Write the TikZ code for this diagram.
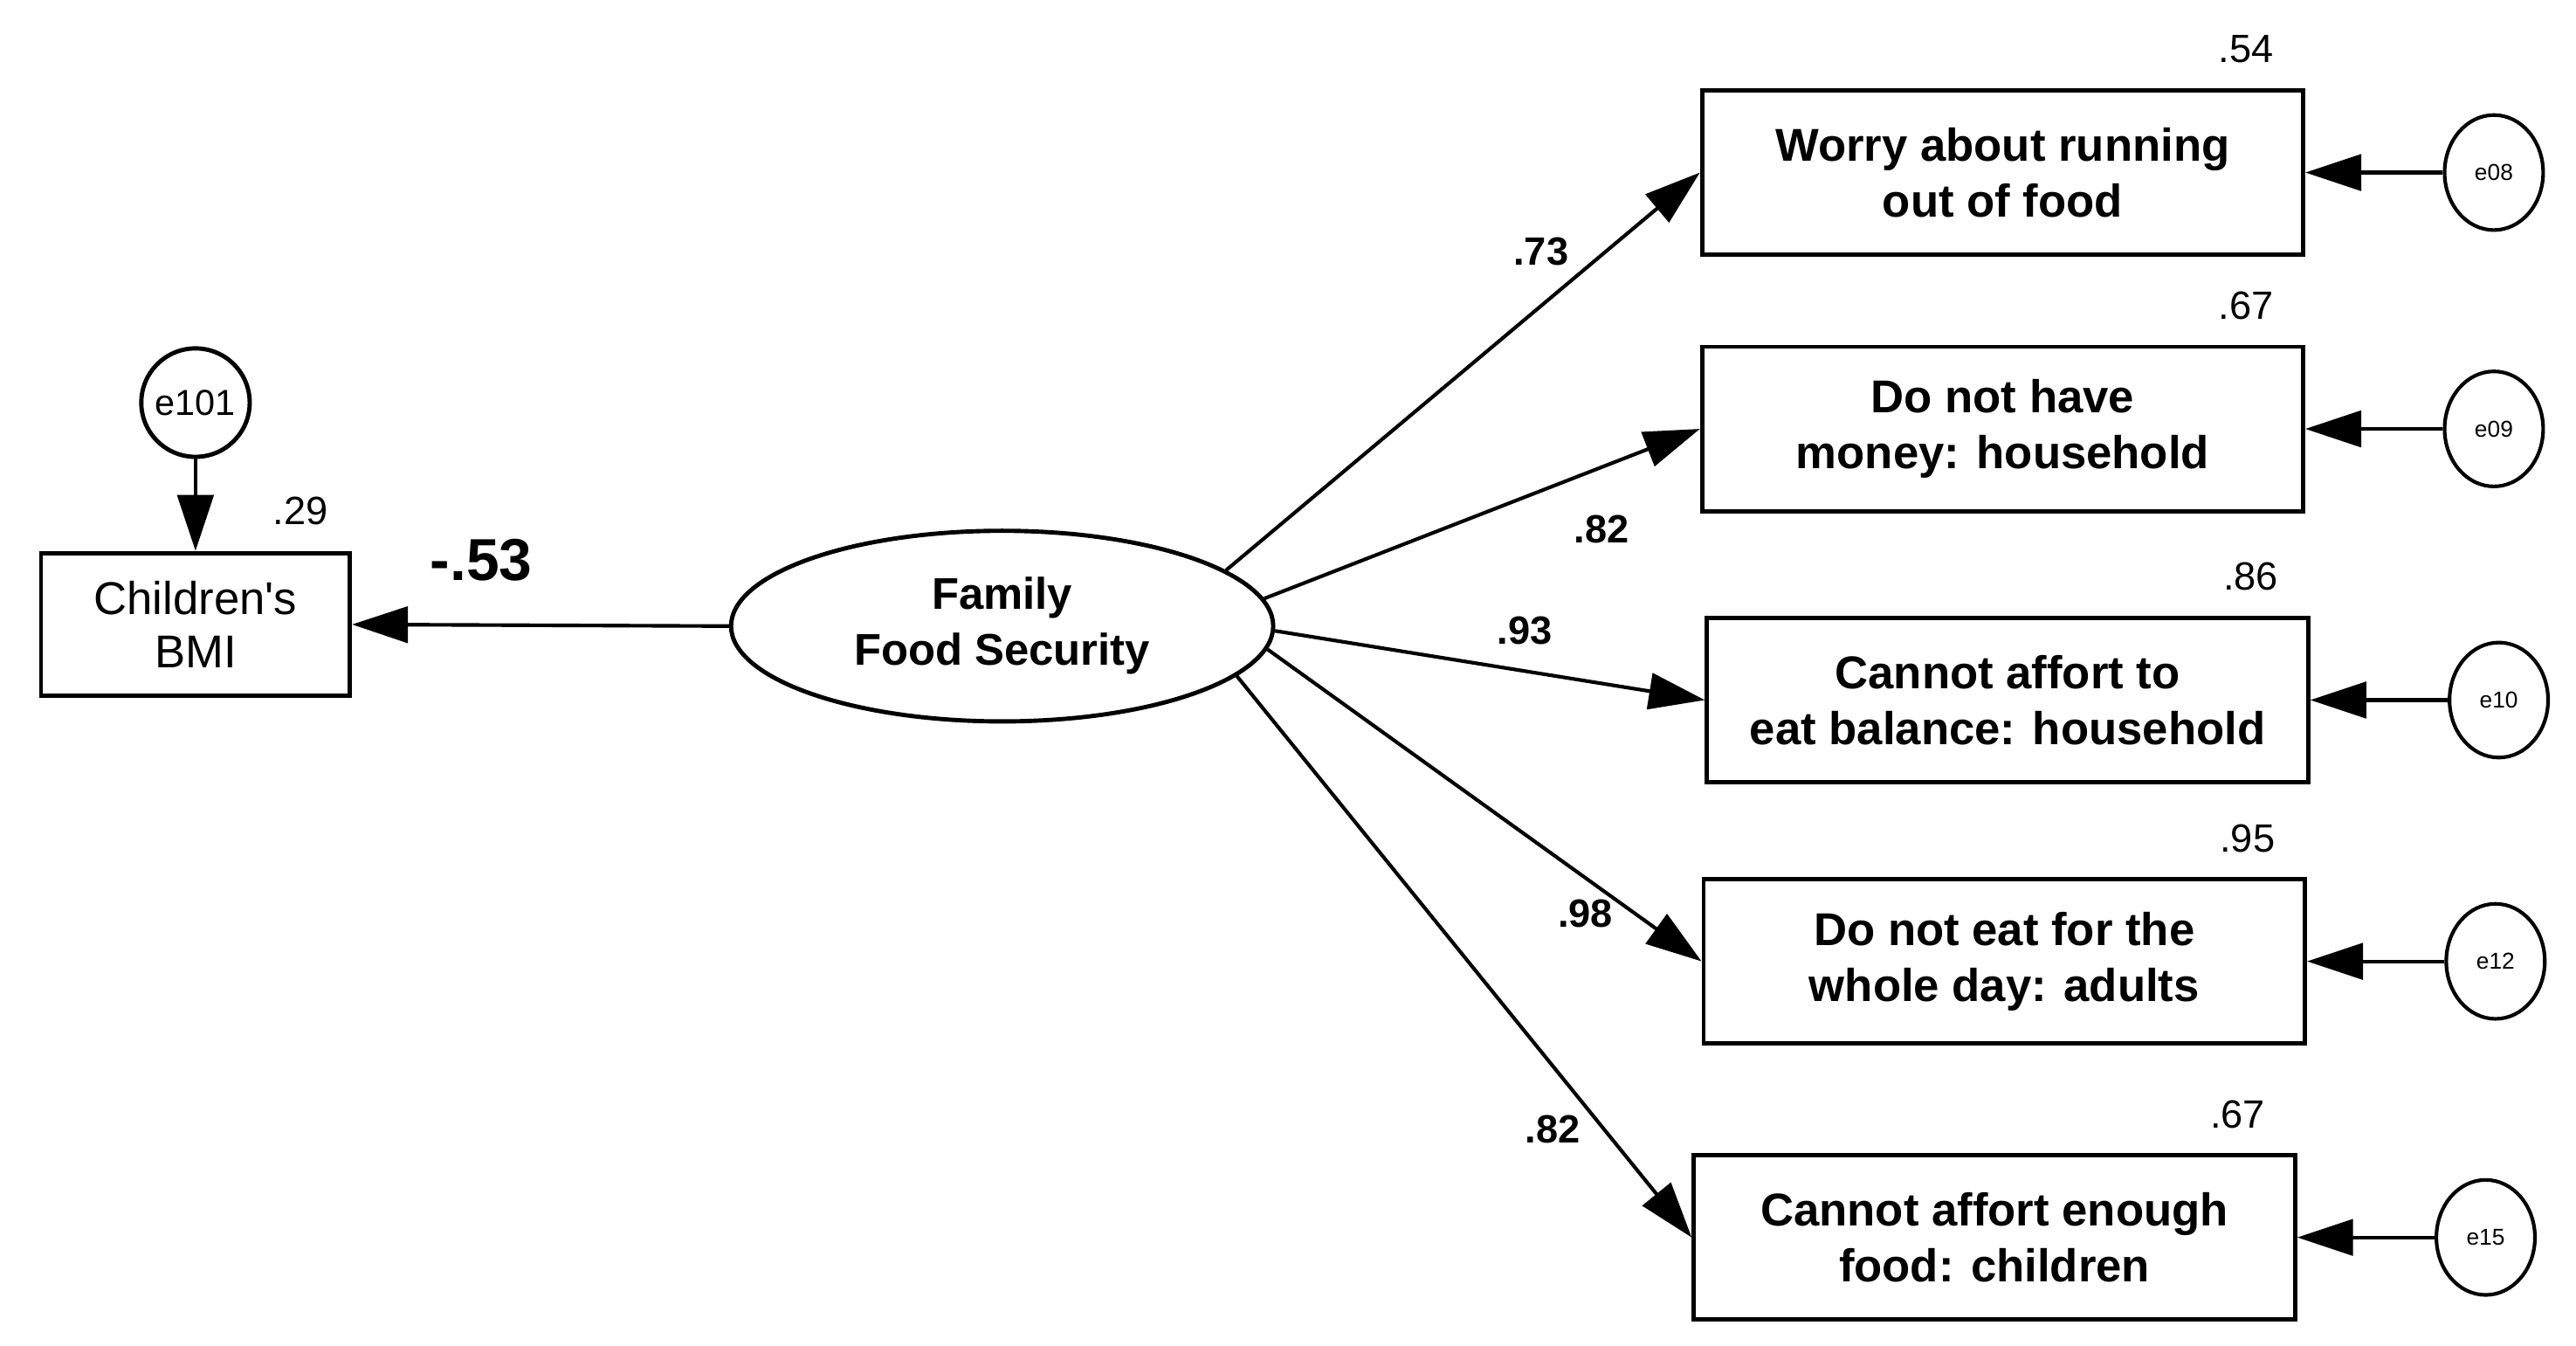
\documentclass[tikz,border=0pt]{standalone}
\usepackage{fontspec}
\setmainfont{Liberation Sans}
\usetikzlibrary{arrows.meta,shapes.geometric}
\begin{document}
\begin{tikzpicture}[x=0.5pt,y=-0.5pt,
 box/.style={draw,line width=1.3pt,minimum width=183pt,minimum height=50pt,align=center,font=\fontsize{14}{17}\selectfont\bfseries},
 err/.style={draw,ellipse,line width=1.1pt,minimum width=30pt,minimum height=35pt,inner sep=0pt,font=\fontsize{7}{8}\selectfont},
 arr/.style={line width=1.1pt,-{Triangle[length=17pt,width=11pt]}},
 num/.style={font=\fontsize{12}{14}\selectfont},
 coef/.style={font=\fontsize{12}{14}\selectfont\bfseries}]
\useasboundingbox (0,0) rectangle (1568,819);
\node[draw,line width=1.3pt,minimum width=94pt,minimum height=43.5pt,align=center,font=\fontsize{14}{16}\selectfont] (bmi) at (119,380) {Children\textquotesingle s\\BMI};
\node[draw,circle,line width=1.3pt,minimum size=33pt,inner sep=0pt,font=\fontsize{11}{12}\selectfont] (e101) at (119,245) {e101};
\draw[arr] (e101) -- (bmi);
\node[num] (r0) at (183,311) {.29};
\node[font=\fontsize{18}{20}\selectfont\bfseries] (c0) at (293,341) {-.53};
\node[draw,ellipse,line width=1.3pt,minimum width=165pt,minimum height=58pt,align=center,font=\fontsize{13.5}{17}\selectfont\bfseries] (ff) at (610,381) {Family\\Food Security};
\draw[arr] (ff.west) -- (bmi.east);
\foreach \i/\x/\y/\txt/\r/\e/\a in {1/1219/105/{Worry about running\\out of food}/.54/e08/14,
 2/1219/261/{Do not have\\money: household}/.67/e09/6,
 3/1222/426/{Cannot affort to\\eat balance: household}/.86/e10/-1,
 4/1220/585/{Do not eat for the\\whole day: adults}/.95/e12/-5,
 5/1214/753/{Cannot affort enough\\food: children}/.67/e15/-12}{
 \node[box] (b\i) at (\x,\y) {\txt};
 \node[num] (r\i) at (\x+148,\y-75) {\r};
 \node[err] (e\i) at (\x+299,\y) {\e};
 \draw[arr] (e\i) -- (b\i);
 \draw[arr] (ff.\a) -- (b\i.west);
}
\node[coef] at (938,153) {.73};
\node[coef] at (975,322) {.82};
\node[coef] at (928,384) {.93};
\node[coef] at (965,556) {.98};
\node[coef] at (945,687) {.82};
\end{tikzpicture}
\end{document}
